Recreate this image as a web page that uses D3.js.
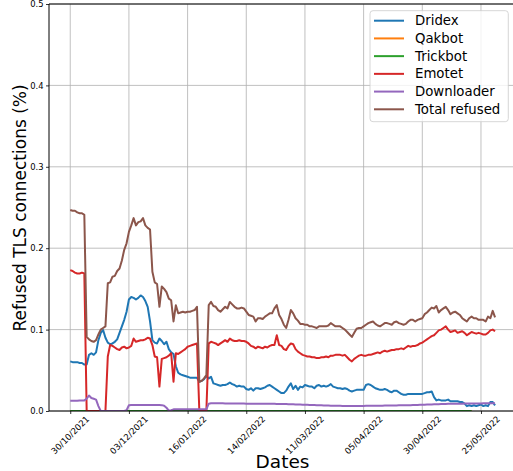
<!DOCTYPE html>
<html>
<head>
<meta charset="utf-8">
<script src="https://cdn.jsdelivr.net/npm/d3@7/dist/d3.min.js"></script>
<style>
  html, body { margin: 0; padding: 0; background: #fff; }
  svg { display: block; font-family: "DejaVu Sans", sans-serif; }
</style>
</head>
<body>
<svg id="chart" width="513" height="471"></svg>
<script>
// ---------------- DATA ----------------
const seriesNames = ["Dridex", "Qakbot", "Trickbot", "Emotet", "Downloader", "Total refused"];
const seriesColors = ["#1f77b4", "#ff7f0e", "#2ca02c", "#d62728", "#9467bd", "#8c564b"];

const tickIndex = [0, 25, 50, 75, 100, 125, 150, 175];
const tickLabels = ["30/10/2021", "03/12/2021", "16/01/2022", "14/02/2022", "11/03/2022", "05/04/2022", "30/04/2022", "25/05/2022"];
const yTicks = [0.0, 0.1, 0.2, 0.3, 0.4, 0.5];

const dridex = [
0.061,0.060,0.060,0.060,0.059,0.059,0.057,0.057,0.069,0.071,
0.069,0.072,0.087,0.096,0.0995,0.090,0.084,0.082,0.083,0.085,
0.088,0.096,0.104,0.112,0.122,0.137,0.140,0.139,0.137,0.139,
0.142,0.140,0.135,0.128,0.110,0.087,0.084,0.083,0.089,0.086,
0.082,0.085,0.076,0.072,0.070,0.055,0.047,0.045,0.044,0.043,
0.042,0.041,0.041,0.041,0.041,0.036,0.037,0.039,0.043,0.040,
0.042,0.034,0.033,0.032,0.031,0.032,0.032,0.033,0.035,0.033,
0.032,0.030,0.031,0.030,0.030,0.027,0.026,0.028,0.025,0.028,
0.028,0.027,0.028,0.029,0.031,0.032,0.030,0.028,0.026,0.024,
0.022,0.022,0.025,0.030,0.034,0.027,0.031,0.026,0.030,0.029,
0.032,0.031,0.030,0.030,0.028,0.031,0.032,0.030,0.031,0.030,
0.031,0.033,0.030,0.029,0.028,0.028,0.027,0.028,0.027,0.025,
0.024,0.025,0.026,0.026,0.026,0.026,0.032,0.033,0.032,0.030,
0.028,0.027,0.026,0.026,0.027,0.026,0.024,0.023,0.025,0.025,
0.023,0.021,0.020,0.020,0.021,0.021,0.021,0.021,0.021,0.021,
0.021,0.022,0.023,0.023,0.024,0.017,0.013,0.014,0.013,0.013,
0.013,0.014,0.012,0.012,0.012,0.012,0.011,0.011,0.009,0.006,
0.007,0.006,0.007,0.006,0.007,0.008,0.006,0.007,0.006,0.011,
0.011,0.007];

const qakbot = [
0,0,0,0,0,0,0,0,0,0, 0,0,0,0,0,0,0,0,0,0, 0,0,0,0,0,0,0,0,0,0,
0,0,0,0,0,0,0,0,0,0, 0,0,0,0,0,0,0,0,0,0, 0,0,0,0,0,0,0,0,0,0,
0,0,0,0,0,0,0,0,0,0, 0,0,0,0,0,0,0,0,0,0, 0,0,0,0,0,0,0,0,0,0,
0,0,0,0,0,0,0,0,0,0, 0,0,0,0,0,0,0,0,0,0, 0,0,0,0,0,0,0,0,0,0,
0,0,0,0,0,0,0,0,0,0, 0,0,0,0,0,0,0,0,0,0, 0,0,0,0,0,0,0,0,0,0,
0,0,0,0,0,0,0,0,0,0, 0,0,0,0,0,0,0,0,0,0, 0,0];

const trickbot = [
0,0,0,0,0,0,0,0,0,0, 0,0,0,0,0,0,0,0,0,0, 0,0,0,0,0,0,0,0,0,0,
0,0,0,0,0,0,0,0,0,0, 0,0,0,0,0,0,0,0,0,0, 0,0,0,0,0,0,0,0,0,0,
0,0,0,0,0,0,0,0,0,0, 0,0,0,0,0,0,0,0,0,0, 0,0,0,0,0,0,0,0,0,0,
0,0,0,0,0,0,0,0,0,0, 0,0,0,0,0,0,0,0,0,0, 0,0,0,0,0,0,0,0,0,0,
0,0,0,0,0,0,0,0,0,0, 0,0,0,0,0,0,0,0,0,0, 0,0,0,0,0,0,0,0,0,0,
0,0,0,0,0,0,0,0,0,0, 0,0,0,0,0,0,0,0,0,0, 0,0];

const emotet = [
0.173,0.172,0.170,0.169,0.169,0.170,0.169,0.000,0.000,0.000,
0.000,0.000,0.000,0.000,0.000,0.000,0.067,0.081,0.080,0.078,
0.076,0.075,0.078,0.079,0.077,0.078,0.080,0.089,0.085,0.086,
0.087,0.087,0.088,0.090,0.089,0.081,0.067,0.066,0.030,0.064,
0.065,0.066,0.068,0.071,0.036,0.071,0.070,0.072,0.074,0.076,
0.079,0.080,0.081,0.082,0.083,0.000,0.000,0.000,0.000,0.083,
0.085,0.084,0.083,0.081,0.083,0.085,0.087,0.085,0.089,0.087,
0.086,0.086,0.087,0.086,0.086,0.085,0.083,0.080,0.079,0.077,
0.079,0.078,0.077,0.079,0.078,0.080,0.081,0.081,0.093,0.081,
0.080,0.076,0.075,0.080,0.083,0.082,0.076,0.073,0.071,0.069,
0.068,0.067,0.067,0.066,0.066,0.065,0.065,0.066,0.066,0.067,
0.066,0.068,0.068,0.069,0.069,0.069,0.068,0.069,0.066,0.063,
0.061,0.064,0.066,0.068,0.069,0.068,0.068,0.069,0.069,0.070,
0.071,0.072,0.071,0.073,0.074,0.073,0.074,0.075,0.075,0.076,
0.076,0.077,0.076,0.078,0.080,0.079,0.080,0.080,0.081,0.083,
0.084,0.086,0.088,0.090,0.092,0.093,0.096,0.099,0.100,0.102,
0.104,0.100,0.097,0.098,0.099,0.096,0.097,0.098,0.096,0.093,
0.095,0.097,0.096,0.095,0.096,0.095,0.094,0.094,0.096,0.099,
0.100,0.098];

const downloader = [
0.0125,0.0125,0.0125,0.0125,0.013,0.013,0.013,0.015,0.019,0.016,
0.015,0.014,0.006,0.000,0.000,0.000,0.000,0.000,0.000,0.000,
0.000,0.000,0.000,0.000,0.001,0.007,0.0075,0.0075,0.0075,0.0075,
0.0075,0.0075,0.0075,0.0075,0.0075,0.0075,0.0074,0.0074,0.0073,0.0072,
0.0065,0.004,0.0005,0.001,0.002,0.002,0.002,0.002,0.002,0.002,
0.002,0.002,0.002,0.002,0.002,0.002,0.002,0.002,0.002,0.009,
0.0095,0.0095,0.0095,0.0094,0.0094,0.0094,0.0093,0.0093,0.0093,0.0092,
0.0092,0.0092,0.0091,0.0091,0.0091,0.009,0.009,0.009,0.009,0.0089,
0.0089,0.0089,0.0089,0.0088,0.0088,0.0088,0.0088,0.0088,0.0087,0.0087,
0.0087,0.0086,0.0085,0.0084,0.0083,0.0082,0.0081,0.008,0.0079,0.0078,
0.0077,0.0076,0.0075,0.0074,0.0073,0.0072,0.0071,0.007,0.0069,0.0068,
0.0067,0.0066,0.0065,0.0064,0.0063,0.0063,0.0062,0.0062,0.0061,0.0061,
0.006,0.006,0.0061,0.0061,0.0062,0.0062,0.0063,0.0063,0.0064,0.0064,
0.0065,0.0065,0.0066,0.0066,0.0067,0.0067,0.0068,0.0068,0.0069,0.0069,
0.007,0.007,0.0071,0.0071,0.0072,0.0072,0.0073,0.0074,0.0075,0.0076,
0.0077,0.0078,0.0079,0.008,0.0081,0.0082,0.0083,0.0084,0.0085,0.0086,
0.0087,0.0088,0.0088,0.0089,0.0089,0.009,0.009,0.009,0.0091,0.0091,
0.0092,0.0092,0.0092,0.0093,0.0093,0.0093,0.0094,0.0094,0.0094,0.0094,
0.0095,0.0095];

const totalRefused = [
0.247,0.246,0.246,0.244,0.243,0.243,0.241,0.091,0.088,0.086,
0.085,0.087,0.094,0.100,0.102,0.104,0.157,0.158,0.165,0.166,
0.172,0.175,0.185,0.198,0.206,0.220,0.228,0.237,0.228,0.232,
0.233,0.237,0.228,0.225,0.223,0.171,0.158,0.156,0.128,0.153,
0.150,0.146,0.138,0.136,0.110,0.130,0.120,0.121,0.122,0.121,
0.122,0.122,0.123,0.124,0.128,0.036,0.037,0.040,0.044,0.130,
0.134,0.129,0.128,0.124,0.122,0.125,0.128,0.126,0.134,0.131,
0.128,0.126,0.126,0.127,0.126,0.122,0.118,0.117,0.116,0.110,
0.114,0.114,0.113,0.116,0.118,0.120,0.120,0.126,0.130,0.118,
0.113,0.106,0.102,0.112,0.124,0.120,0.114,0.111,0.107,0.107,
0.106,0.106,0.104,0.104,0.103,0.102,0.104,0.104,0.104,0.104,
0.105,0.108,0.106,0.104,0.104,0.104,0.102,0.100,0.097,0.094,
0.091,0.096,0.101,0.102,0.102,0.104,0.106,0.108,0.109,0.110,
0.107,0.105,0.104,0.106,0.108,0.108,0.107,0.106,0.109,0.110,
0.108,0.107,0.106,0.107,0.110,0.112,0.112,0.110,0.112,0.113,
0.114,0.119,0.121,0.124,0.127,0.126,0.129,0.121,0.124,0.126,
0.128,0.124,0.119,0.121,0.122,0.120,0.118,0.114,0.112,0.110,
0.114,0.116,0.114,0.114,0.112,0.112,0.112,0.110,0.116,0.114,
0.123,0.115];

const seriesValues = [dridex, qakbot, trickbot, emotet, downloader, totalRefused];

// ---------------- CHART ----------------
const W = 513, H = 471;
const plot = { left: 49, top: 4, bottom: 411, right: 516.3 };
const svg = d3.select("#chart");
svg.append("rect").attr("width", W).attr("height", H).attr("fill", "#fff");

const n = totalRefused.length;
const pad = 0.05 * (n - 1);
const x = d3.scaleLinear().domain([-pad, (n - 1) + pad]).range([plot.left, plot.right]);
const y = d3.scaleLinear().domain([0, 0.5]).range([plot.bottom, plot.top]);

svg.append("clipPath").attr("id", "clip")
  .append("rect").attr("x", plot.left).attr("y", plot.top)
  .attr("width", plot.right - plot.left).attr("height", plot.bottom - plot.top);

// grid
const grid = svg.append("g").attr("stroke", "#b0b0b0").attr("stroke-width", 0.8);
grid.selectAll("line.v").data(tickIndex).join("line")
  .attr("x1", d => x(d)).attr("x2", d => x(d))
  .attr("y1", plot.top).attr("y2", plot.bottom);
grid.selectAll("line.h").data(yTicks).join("line")
  .attr("x1", plot.left).attr("x2", plot.right)
  .attr("y1", d => y(d)).attr("y2", d => y(d));

// lines
const line = d3.line().x((d, i) => x(i)).y(d => y(d));
const lines = svg.append("g").attr("clip-path", "url(#clip)");
seriesValues.forEach((vals, k) => {
  lines.append("path").datum(vals)
    .attr("d", line)
    .attr("fill", "none")
    .attr("stroke", seriesColors[k])
    .attr("stroke-width", 2)
    .attr("stroke-linejoin", "round")
    .attr("stroke-linecap", "butt");
});

// spines
const sp = svg.append("g").attr("stroke", "#000").attr("stroke-width", 1);
sp.append("line").attr("x1", plot.left).attr("x2", plot.left).attr("y1", plot.top).attr("y2", plot.bottom);
sp.append("line").attr("x1", plot.left).attr("x2", W).attr("y1", plot.bottom).attr("y2", plot.bottom);
sp.append("line").attr("x1", plot.left).attr("x2", W).attr("y1", plot.top).attr("y2", plot.top);

// y axis
const yAxis = d3.axisLeft(y).tickValues(yTicks).tickFormat(d3.format(".1f")).tickSize(3).tickPadding(2.5);
const gy = svg.append("g").attr("transform", `translate(${plot.left},0)`).call(yAxis);
gy.select(".domain").remove();
gy.selectAll("text").attr("font-size", "8.4px").attr("fill", "#000").attr("font-family", "DejaVu Sans");
gy.selectAll("line").attr("stroke", "#000").attr("stroke-width", 0.8);

// x axis ticks
const xAxis = d3.axisBottom(x).tickValues(tickIndex).tickFormat("").tickSize(3);
const gx = svg.append("g").attr("transform", `translate(0,${plot.bottom})`).call(xAxis);
gx.select(".domain").remove();
gx.selectAll("line").attr("stroke", "#000").attr("stroke-width", 0.8);

svg.append("g").selectAll("text").data(tickIndex).join("text")
  .attr("transform", (d) => `translate(${x(d)},435) rotate(-45)`)
  .attr("text-anchor", "middle")
  .attr("dominant-baseline", "central")
  .attr("font-size", "8.6px")
  .attr("fill", "#000")
  .text((d, i) => tickLabels[i]);

// axis titles
svg.append("text")
  .attr("transform", "translate(20,208) rotate(-90)")
  .attr("text-anchor", "middle").attr("dominant-baseline", "central")
  .attr("font-size", "17px").attr("fill", "#000")
  .text("Refused TLS connections (%)");
svg.append("text")
  .attr("x", 282.5).attr("y", 461)
  .attr("text-anchor", "middle").attr("dominant-baseline", "central")
  .attr("font-size", "18.5px").attr("fill", "#000")
  .text("Dates");

// legend
const lg = svg.append("g");
lg.append("rect").attr("x", 370).attr("y", 10.7).attr("width", 138.3).attr("height", 111)
  .attr("rx", 3).attr("fill", "#fff").attr("fill-opacity", 0.8)
  .attr("stroke", "#cccccc").attr("stroke-width", 0.8);
seriesNames.forEach((name, k) => {
  const yy = 20.7 + k * 17.72;
  lg.append("line").attr("x1", 374).attr("x2", 404).attr("y1", yy).attr("y2", yy)
    .attr("stroke", seriesColors[k]).attr("stroke-width", 2);
  lg.append("text").attr("x", 415).attr("y", yy)
    .attr("dominant-baseline", "central").attr("font-size", "13.3px").attr("fill", "#000")
    .text(name);
});
</script>
</body>
</html>
